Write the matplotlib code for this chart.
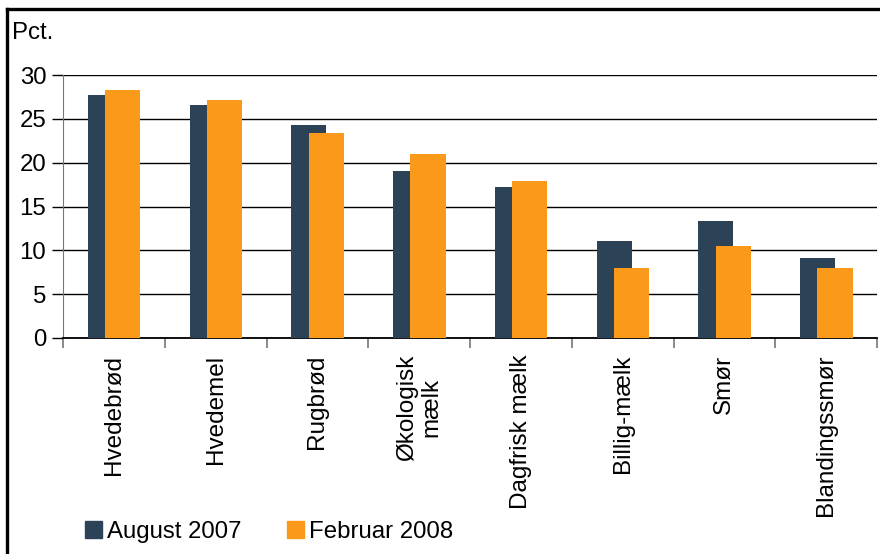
import numpy as np
import matplotlib
matplotlib.use("Agg")
import matplotlib.pyplot as plt
from matplotlib.lines import Line2D
from matplotlib.patches import Patch

plt.rcParams['font.family'] = ['Liberation Sans', 'DejaVu Sans']

categories = ["Hvedebrød", "Hvedemel", "Rugbrød", "Økologisk\nmælk",
              "Dagfrisk mælk", "Billig-mælk", "Smør", "Blandingssmør"]
aug2007 = [27.7, 26.6, 24.3, 19.1, 17.2, 11.1, 13.3, 9.1]
feb2008 = [28.3, 27.1, 23.4, 21.0, 17.9, 8.0, 10.5, 8.0]
series_names = ["August 2007", "Februar 2008"]

dark = "#2C4256"
orange = "#FA991A"
fs = 17.3

fig = plt.figure(figsize=(8.8, 5.54), dpi=100)
ax = fig.add_axes([63/880, 1 - 338/554, 814/880, 263/554])

x = np.arange(len(categories))
w = 0.345
ax.bar(x - 0.083, aug2007, width=w, color=dark, zorder=3)
ax.bar(x + 0.087, feb2008, width=w, color=orange, zorder=4)

ax.set_xlim(-0.5, len(categories) - 0.5)
ax.set_ylim(0, 30)
ax.set_yticks(range(0, 31, 5))
ax.yaxis.grid(True, color="black", linewidth=1.0, zorder=0)
ax.set_axisbelow(True)

ax.set_xticks(x)
ax.set_xticklabels(categories, rotation=90, fontsize=17.5, va="top",
                   ha="center", multialignment="center", linespacing=1.1)
ax.set_xticks(np.arange(-0.5, len(categories)), minor=True)
ax.tick_params(axis="x", which="major", length=0, pad=12)
ax.tick_params(axis="x", which="minor", length=7, width=1.2, color="#777777")
ax.tick_params(axis="y", labelsize=fs, length=8, width=1.0, color="black", pad=4)

for s in ["top", "right"]:
    ax.spines[s].set_visible(False)
ax.spines["left"].set_color("#777777")
ax.spines["bottom"].set_color("black")
ax.spines["bottom"].set_linewidth(1.3)

fig.text(12/880, 1 - 33/554, "Pct.", fontsize=fs, va="center", ha="left")

handles = [Patch(color=dark), Patch(color=orange)]
fig.legend(handles, series_names, loc="center left",
           bbox_to_anchor=(75/880, 1 - 532/554), ncol=2, frameon=False,
           fontsize=fs, handlelength=0.72, handleheight=0.72,
           handletextpad=0.2, columnspacing=1.9, borderaxespad=0)

# frame lines around the figure (top and left visible)
fig.add_artist(Line2D([6.5/880, 1], [1 - 8.5/554, 1 - 8.5/554],
                      transform=fig.transFigure, color="black", linewidth=2.4))
fig.add_artist(Line2D([6.5/880, 6.5/880], [0, 1 - 8.5/554],
                      transform=fig.transFigure, color="black", linewidth=2.4))

fig.savefig("out.png", dpi=100)
